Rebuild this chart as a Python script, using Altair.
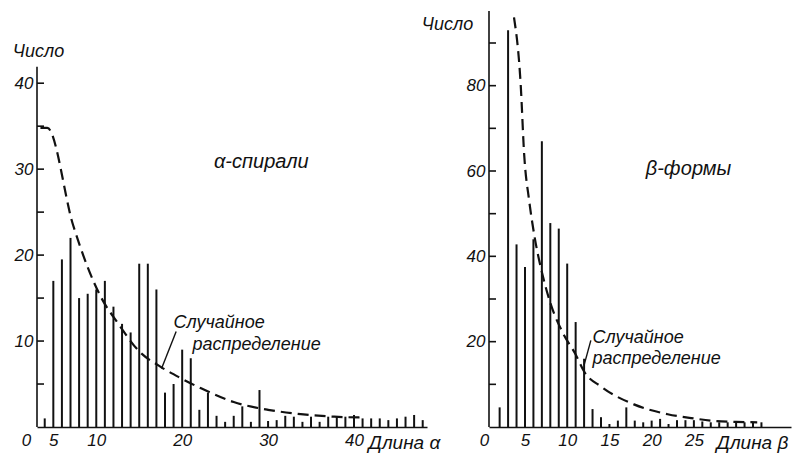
import altair as alt
import pandas as pd

FONT = "Liberation Sans"
INK = "#111111"

# ---------------- data: alpha-helices ----------------
alpha_len = list(range(4, 49))
alpha_cnt = [1, 17, 19.5, 22, 15, 15.5, 16, 17, 14, 12, 11, 19, 19, 16, 4, 5, 9, 8, 2, 4,
             1.3, 0.6, 1.3, 2.4, 0.6, 4.3, 0.7, 0.8, 1.3, 1.2, 0.6, 1.2, 0.6, 1.2, 1.2, 1.2,
             1.4, 1.0, 1.0, 1.0, 0.8, 1.0, 1.2, 1.4, 0.8]
alpha_curve_x = [3.5, 4.3, 7.3, 10.5, 12.5, 15, 17.5, 19.8, 22.2, 26, 30, 33.8, 37.7, 41]
alpha_curve_y = [34.8, 34.8, 23.5, 15.2, 12.1, 8.8, 7.0, 5.7, 4.5, 2.9, 2.0, 1.5, 1.2, 1.1]

# ---------------- data: beta-strands ----------------
beta_len = list(range(2, 34))
beta_cnt = [4.6, 93, 42.8, 37.5, 44, 67, 47.8, 46.5, 38.3, 24.6, 16, 4.2, 2.3, 0.7, 1.5, 4.6,
            1.5, 1.1, 1.5, 1.9, 0.7, 1.6, 1.6, 1.6, 1.3, 1.1, 1.1, 1.1, 1.1, 1.1, 1.1, 1.1]
beta_curve_x = [3.7, 4.5, 4.9, 5.5, 6.1, 7.1, 8.1, 9.5, 11, 12, 14, 17.9, 21.9, 25, 27, 30, 32.5]
beta_curve_y = [96, 80, 64, 53, 45, 35.5, 28.5, 22, 17, 13, 9.5, 5.3, 3.0, 2.0, 1.5, 1.2, 1.1]

# axis ticks / labels
alpha_x_labels = [3.1, 5, 10, 20, 30, 40]
alpha_y_labels = [10, 20, 30, 40]
alpha_y_ticks = [5, 10, 15, 20, 25, 30, 35, 40]
alpha_axis_top = 41.9
beta_x_labels = [0.74, 5, 10, 15, 20, 25]
beta_y_labels = [20, 40, 60, 80]
beta_y_ticks = [10, 20, 30, 40, 50, 60, 70, 80, 90]
beta_axis_top = 97.5

# annotations (data units)
alpha_title = {"x": [23.7], "y": [30.8], "t": ["α-спирали"]}
alpha_note = {"x": [19.0, 21.2], "y": [11.5, 9.0], "t": ["Случайное", "распределение"]}
alpha_lead = {"x": [19.3], "y": [11.1], "x2": [17.6], "y2": [6.8]}
beta_title = {"x": [19.3], "y": [60.5], "t": ["β-формы"]}
beta_note = {"x": [13.0, 13.0], "y": [19.8, 14.7], "t": ["Случайное", "распределение"]}
beta_lead = {"x": [12.8], "y": [20.3], "x2": [12.0], "y2": [14.5]}


def panel(lens, cnts, cx, cy, xdom, ydom, width, xlabels, xtitle, xtitle_x,
          ylabels, yticks, axis_top, ytitle_x, ytitle_y, title, note, lead, zero_shift):
    xs = alt.Scale(domain=xdom, nice=False, zero=False)
    ys = alt.Scale(domain=ydom, nice=False)
    bars = pd.DataFrame({"len": lens, "cnt": cnts})
    curve = pd.DataFrame({"len": cx, "cnt": cy})
    thr = xlabels[0] + 0.5
    xaxis = alt.Axis(
        values=xlabels,
        labelExpr=f"datum.value < {thr} ? '0' : datum.label",
        labelOffset={"condition": {"test": f"datum.value < {thr}", "value": zero_shift}, "value": 0},
        labelFlush=False, labelOverlap=False, ticks=False, grid=False,
        domain=True, domainColor=INK, domainWidth=1.6, labelPadding=5,
        labelFontSize=17, labelFont=FONT, labelFontStyle="italic", labelColor=INK,
        title=xtitle, titleX=xtitle_x, titleY=6, titleAlign="left", titleBaseline="top",
        titleFont=FONT, titleFontSize=19, titleFontStyle="italic", titleFontWeight="normal",
        titleColor=INK,
    )
    yaxis = alt.Axis(
        values=ylabels, domain=False, ticks=False, grid=False, labelPadding=4,
        labelFontSize=17, labelFont=FONT, labelFontStyle="italic", labelColor=INK,
        title="Число", titleAngle=0, titleAlign="center", titleBaseline="middle",
        titleX=ytitle_x, titleY=ytitle_y, titleFont=FONT, titleFontSize=18,
        titleFontStyle="italic", titleFontWeight="normal", titleColor=INK,
    )
    bar_layer = alt.Chart(bars).mark_rule(strokeWidth=2, color=INK).encode(
        x=alt.X("len:Q", scale=xs, axis=xaxis),
        y=alt.Y("cnt:Q", scale=ys, axis=yaxis),
        y2=alt.datum(0),
    )
    curve_layer = alt.Chart(curve).mark_line(
        color=INK, strokeWidth=2.2, strokeDash=[11, 6], interpolate="monotone"
    ).encode(x=alt.X("len:Q", scale=xs), y=alt.Y("cnt:Q", scale=ys))
    yline = alt.Chart(pd.DataFrame({"a": [0], "b": [axis_top]})).mark_rule(
        color=INK, strokeWidth=1.6
    ).encode(x=alt.value(0), y=alt.Y("a:Q", scale=ys), y2="b:Q")
    ytk = alt.Chart(pd.DataFrame({"t": yticks})).mark_rule(
        color=INK, strokeWidth=1.6
    ).encode(x=alt.value(0), x2=alt.value(7), y=alt.Y("t:Q", scale=ys))
    ttl = alt.Chart(pd.DataFrame(title)).mark_text(
        align="left", baseline="middle", font=FONT, fontSize=20, fontStyle="italic", color=INK
    ).encode(x=alt.X("x:Q", scale=xs), y=alt.Y("y:Q", scale=ys), text="t:N")
    nt = alt.Chart(pd.DataFrame(note)).mark_text(
        align="left", baseline="alphabetic", font=FONT, fontSize=18, fontStyle="italic", color=INK
    ).encode(x=alt.X("x:Q", scale=xs), y=alt.Y("y:Q", scale=ys), text="t:N")
    ld = alt.Chart(pd.DataFrame(lead)).mark_rule(color=INK, strokeWidth=1.4).encode(
        x=alt.X("x:Q", scale=xs), y=alt.Y("y:Q", scale=ys), x2="x2:Q", y2="y2:Q"
    )
    return alt.layer(bar_layer, curve_layer, yline, ytk, ld, ttl, nt).properties(
        width=width, height=416
    )


left = panel(alpha_len, alpha_cnt, alpha_curve_x, alpha_curve_y, [3.1, 48.5], [0, 48.4], 390,
             alpha_x_labels, "Длина α", 331, alpha_y_labels, alpha_y_ticks, alpha_axis_top,
             1, 40, alpha_title, alpha_note, alpha_lead, -11)
right = panel(beta_len, beta_cnt, beta_curve_x, beta_curve_y, [0.74, 36.5], [0, 97.5], 302,
              beta_x_labels, "Длина β", 227, beta_y_labels, beta_y_ticks, beta_axis_top,
              -42, 13, beta_title, beta_note, beta_lead, -5)

chart = alt.hconcat(left, right, spacing=62, bounds="flush").configure_view(
    stroke=None
).properties(
    padding={"left": 4, "top": 2, "right": 2, "bottom": 2},
    background="white",
)

chart.save("out.html", embed_options={"renderer": "svg", "actions": False})
